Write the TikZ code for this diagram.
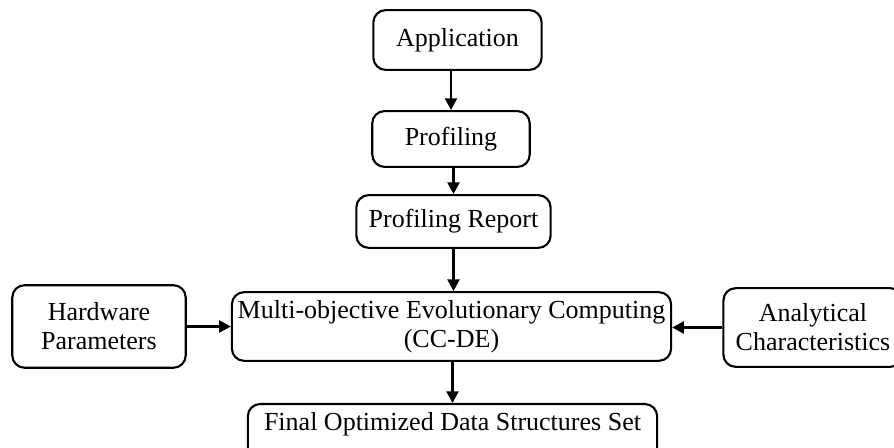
\documentclass[tikz,border=0pt]{standalone}
\usepackage{fontspec}
\setmainfont{Liberation Serif}
\usepackage{tikz}
\usetikzlibrary{arrows.meta, positioning}
\tikzset{
  %% -- rounded process box --
  flow/box/.style={
    draw, line width=1.2pt, rounded corners=7pt,
    fill=white, align=center, inner sep=2pt,
    font=\fontsize{14.8}{16.6}\selectfont
  },
  %% -- connector arrow --
  flow/arr/.style={-{Triangle[length=6.6pt, width=6.8pt]}, line width=1.2pt},
}

\begin{document}
\begin{tikzpicture}[
  x=0.02cm, y=-0.02cm,
]

%% canvas (pixel grid of the reference)
\useasboundingbox (0,0) rectangle (894,448);
\clip (0,0) rectangle (894,448);

%% ━━━━━━━━━━━━━━━━━━━━━━━━━━━━━━━━━━━━━━━━━━━━━━━━━━━━━━━━━━━━━━━━━━━━━
%%  MAIN CHAIN
%% ━━━━━━━━━━━━━━━━━━━━━━━━━━━━━━━━━━━━━━━━━━━━━━━━━━━━━━━━━━━━━━━━━━━━━
\node[flow/box, minimum width=95.8pt, minimum height=34pt]
  (app) at (457.5,40) {Application};
\node[flow/box, minimum width=89.6pt, minimum height=31.8pt]
  (prof) at (451,139) {Profiling};
\node[flow/box, minimum width=110.6pt, minimum height=30pt]
  (report) at (453.5,221.5) {Profiling Report};
\node[flow/box, minimum width=250pt, minimum height=39.1pt]
  (moec) at (451.5,326.5)
  {Multi-objective Evolutionary Computing\\(CC-DE)};

%% Side inputs
\node[flow/box, minimum width=98.7pt, minimum height=47pt]
  (hw) at (99,326.5) {Hardware\\Parameters};
\node[flow/box, minimum width=102pt, minimum height=44.8pt]
  (anal) at (813,327.5) {Analytical\\Characteristics};

%% Result (runs off the bottom edge)
\node[flow/box, anchor=north, minimum width=233pt, inner ysep=0pt,
      text height=15pt, text depth=18pt]
  (final) at (452.5,403) {Final Optimized Data Structures Set};

%% ━━━━━━━━━━━━━━━━━━━━━━━━━━━━━━━━━━━━━━━━━━━━━━━━━━━━━━━━━━━━━━━━━━━━━
%%  CONNECTORS
%% ━━━━━━━━━━━━━━━━━━━━━━━━━━━━━━━━━━━━━━━━━━━━━━━━━━━━━━━━━━━━━━━━━━━━━
\draw[flow/arr] (app.south -| prof.north) -- (prof.north);
\draw[flow/arr] (prof.south -| report.north) -- (report.north);
\draw[flow/arr] (report.south) -- (report.south |- moec.north);
\draw[flow/arr] (hw.east) -- (hw.east -| moec.west);
\draw[flow/arr] (anal.west) -- (anal.west -| moec.east);
\draw[flow/arr] (moec.south -| final.north) -- (final.north);

\end{tikzpicture}
\end{document}
